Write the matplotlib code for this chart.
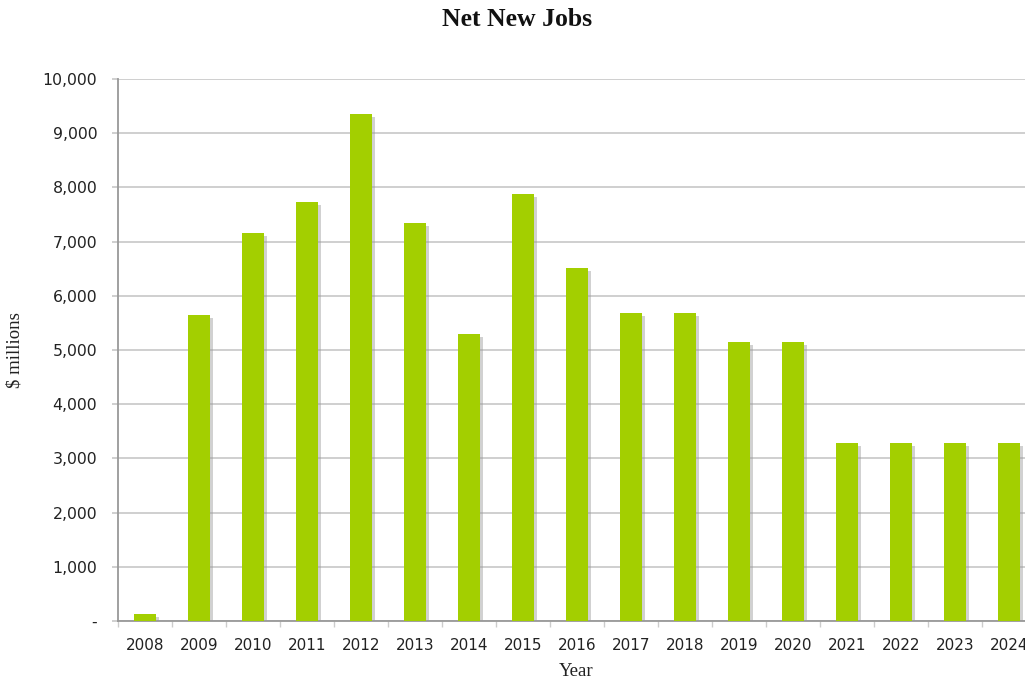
import matplotlib
matplotlib.use("Agg")
import matplotlib.pyplot as plt
import matplotlib.patheffects as pe
from matplotlib.ticker import FuncFormatter, FixedLocator

years = ["2008", "2009", "2010", "2011", "2012", "2013", "2014", "2015", "2016",
         "2017", "2018", "2019", "2020", "2021", "2022", "2023", "2024"]
net_new_jobs = [130, 5650, 7165, 7730, 9360, 7350, 5300, 7885, 6505,
                5690, 5690, 5140, 5140, 3280, 3280, 3280, 3280]
y_ticks = [0, 1000, 2000, 3000, 4000, 5000, 6000, 7000, 8000, 9000, 10000]

bar_color = "#a3cf00"
grid_color = "#cccccc"
axis_color = "#999999"
text_color = "#222222"

fig = plt.figure(figsize=(10.25, 6.81), dpi=100)
ax = fig.add_axes([118 / 1025, 60 / 681, 918 / 1025, 542 / 681])

x = list(range(len(years)))
bars = ax.bar(x, net_new_jobs, width=0.41, color=bar_color, zorder=3)
for b in bars:
    b.set_path_effects([
        pe.SimplePatchShadow(offset=(2.2, -2.2), shadow_rgbFace="#9a9a9a", alpha=0.45),
        pe.Normal(),
    ])

ax.set_xlim(-0.5, len(years) - 0.5)
ax.set_ylim(0, 10000)

ax.set_yticks(y_ticks)
ax.yaxis.set_major_formatter(FuncFormatter(lambda v, _: "-" if v == 0 else f"{int(v):,}"))
ax.grid(axis="y", color=grid_color, linewidth=1.3, zorder=0)

# category labels centred on bars, tick marks between categories
ax.set_xticks(x)
ax.set_xticklabels(years)
ax.xaxis.set_minor_locator(FixedLocator([i - 0.5 for i in range(len(years) + 1)]))
ax.tick_params(axis="x", which="major", length=0, pad=12, labelsize=11, labelcolor=text_color)
ax.tick_params(axis="x", which="minor", length=4, width=1, color=grid_color)
ax.tick_params(axis="y", length=4.5, width=1.3, color=grid_color, pad=10.5,
               labelsize=11.3, labelcolor=text_color)

for side in ("top", "right"):
    ax.spines[side].set_visible(False)
ax.spines["left"].set_color(axis_color)
ax.spines["left"].set_linewidth(1.3)
ax.spines["bottom"].set_color(axis_color)
ax.spines["bottom"].set_linewidth(1.3)
ax.set_axisbelow(True)

serif = ["Liberation Serif", "DejaVu Serif"]
fig.text(517 / 1025, 1 - 20 / 681, "Net New Jobs", ha="center", va="center",
         fontsize=18.5, fontweight="bold", family=serif, color="#111111")
fig.text(576 / 1025, 1 - 671 / 681, "Year", ha="center", va="center",
         fontsize=13.5, family=serif, color=text_color)
fig.text(15 / 1025, 1 - 350 / 681, "$ millions", ha="center", va="center",
         rotation=90, fontsize=13.5, family=serif, color=text_color)

fig.savefig("out.png", dpi=100)
